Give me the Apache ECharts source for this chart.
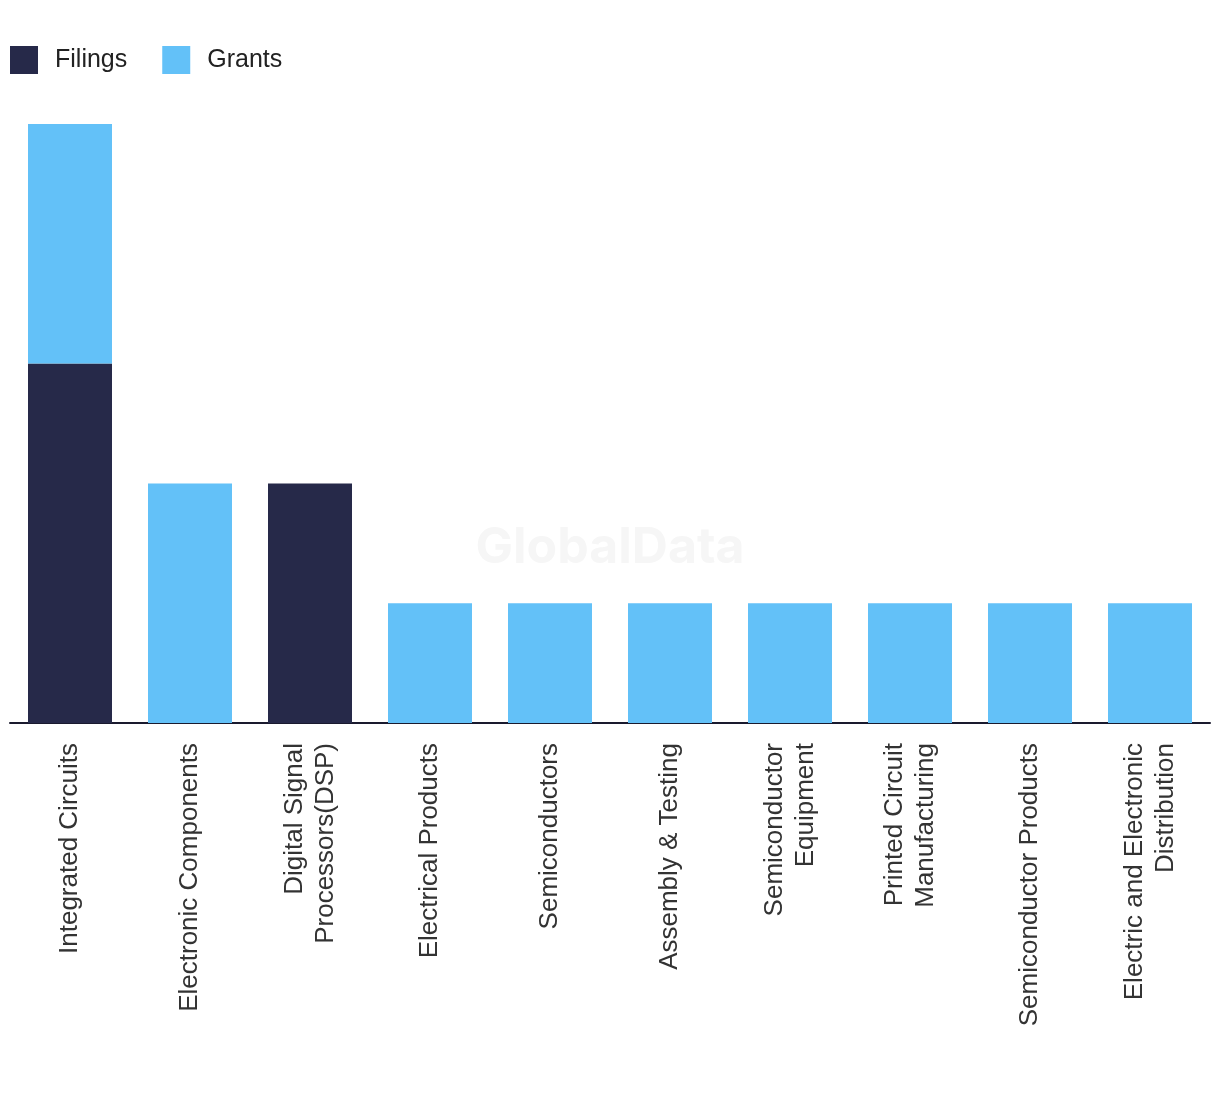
<!DOCTYPE html>
<html><head><meta charset="utf-8">
<script src="https://cdn.jsdelivr.net/npm/echarts@6/dist/echarts.min.js"></script>
<style>html,body{margin:0;padding:0;background:#fff}#c{width:1220px;height:1094px}</style>
</head><body><div id="c"></div>
<script>
const categories = ["Integrated Circuits","Electronic Components","Digital Signal\nProcessors(DSP)","Electrical Products","Semiconductors","Assembly & Testing","Semiconductor\nEquipment","Printed Circuit\nManufacturing","Semiconductor Products","Electric and Electronic\nDistribution"];
const filings = [3,0,2,0,0,0,0,0,0,0];
const grants = [2,2,0,1,1,1,1,1,1,1];

const chart = echarts.init(document.getElementById('c'));
chart.setOption({
  animation:false,
  legend:{left:5,top:41,itemWidth:28,itemHeight:28,itemGap:35,icon:'rect',
    textStyle:{fontFamily:'Liberation Sans',fontSize:25,color:'#222',padding:[0,0,0,12]},
    data:['Filings','Grants']},
  graphic:[{type:'text',left:'center',top:523,style:{text:'GlobalData',fontFamily:'Inter',fontWeight:'bold',fontSize:50,fill:'#f6f6f6'},z:-1}],
  grid:{left:10,right:10,top:124,bottom:371},
  xAxis:{type:'category',data:categories,
    axisLine:{lineStyle:{color:'#1a1a2e',width:2}},axisTick:{show:false},
    axisLabel:{rotate:90,interval:0,margin:20,fontFamily:'Liberation Sans',fontSize:26,color:'#333',lineHeight:31,align:'right',verticalAlign:'middle'}},
  yAxis:{type:'value',min:0,max:5,show:false,splitLine:{show:false}},
  series:[
    {name:'Filings',type:'bar',stack:'a',barWidth:84,data:filings,itemStyle:{color:'#262949'}},
    {name:'Grants',type:'bar',stack:'a',barWidth:84,data:grants,itemStyle:{color:'#63c1f8'}}
  ]
});
</script></body></html>
